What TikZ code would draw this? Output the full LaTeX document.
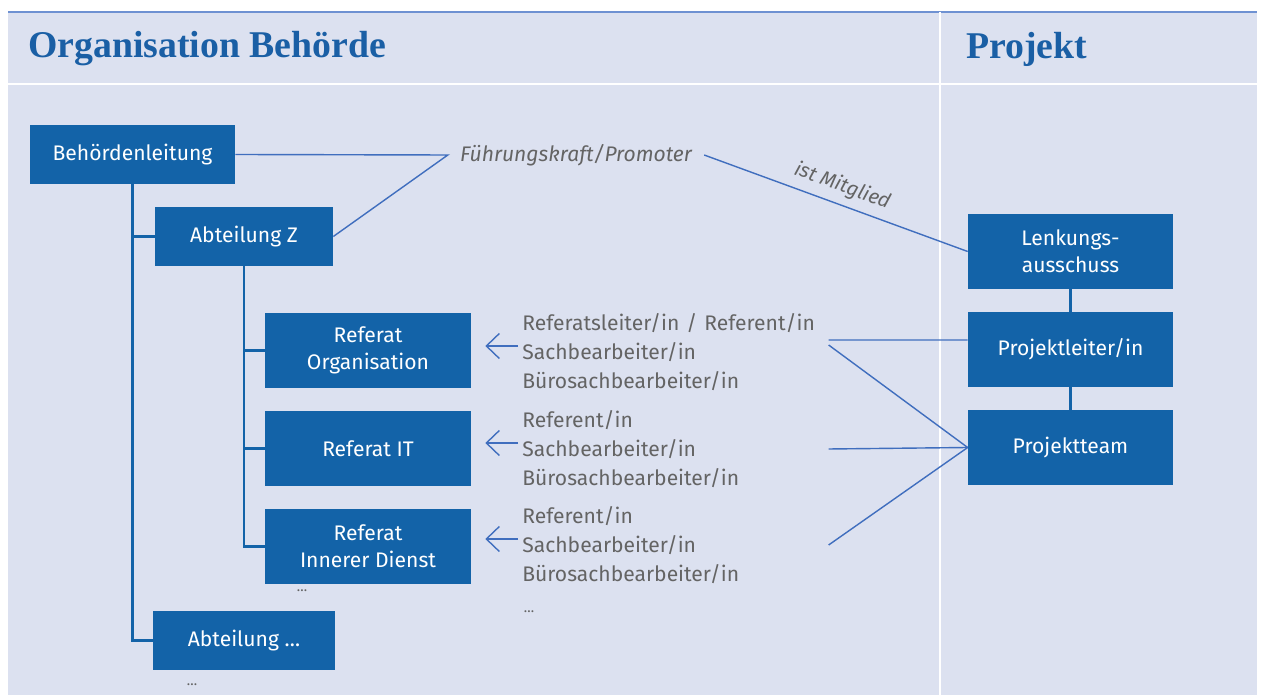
\documentclass[tikz,border=0pt]{standalone}
\usepackage{fontspec}
\setmainfont{Fira Sans}
\newfontfamily\titlefont{Liberation Serif}
\definecolor{bgblue}{RGB}{220,225,240}
\definecolor{boxblue}{RGB}{19,99,168}
\definecolor{titleblue}{RGB}{26,95,165}
\definecolor{lineblue}{RGB}{64,110,190}
\definecolor{topblue}{RGB}{110,145,210}
\definecolor{txtgray}{RGB}{100,100,100}
\usetikzlibrary{arrows.meta,positioning,calc}

\begin{document}
\begin{tikzpicture}[x=0.02cm,y=-0.02cm,
  orgbox/.style={fill=boxblue,text=white,inner sep=0pt,font=\fontsize{12}{15.5}\selectfont,align=center},
  wide/.style={orgbox,minimum width=4.1cm,minimum height=1.5cm},
  flat/.style={orgbox,minimum height=1.18cm},
  tree/.style={draw=boxblue,line width=1.7pt},
  link/.style={draw=lineblue,line width=0.8pt},
  roles/.style={text=txtgray,font=\fontsize{12}{16.5}\selectfont,align=left,anchor=west,text width=6.12cm,inner sep=0pt},
  dots/.style={text=txtgray,font=\fontsize{8}{10}\selectfont}]
  \useasboundingbox (0,0) rectangle (1262,695);
  % Background and header
  \fill[bgblue] (8,12) rectangle (1257,695);
  \draw[topblue,line width=1pt] (8,12) -- (1257,12);
  \draw[white,line width=1.2pt] (8,84) -- (1257,84);
  \draw[white,line width=1.2pt] (940,12) -- (940,695);
  \node[anchor=west,text=titleblue,font=\titlefont\fontsize{21.5}{24}\selectfont\bfseries,inner sep=0pt] (h1) at (28,49) {Organisation Behörde};
  \node[anchor=west,text=titleblue,font=\titlefont\fontsize{21.5}{24}\selectfont\bfseries,inner sep=0pt] (h2) at (966,49) {Projekt};
  % Organisation
  \node[flat,minimum width=4.1cm] (bl) at (132.5,154.5) {Behördenleitung};
  \node[flat,minimum width=3.56cm] (az) at (244,236.5) {Abteilung Z};
  \node[wide,minimum width=4.12cm] (ro) at (368,350.5) {Referat\\Organisation};
  \node[wide,minimum width=4.12cm] (rit) at (368,448.5) {Referat IT};
  \node[wide,minimum width=4.12cm] (rid) at (368,546.5) {Referat\\Innerer Dienst};
  \node[flat,minimum width=3.64cm] (ax) at (244,640.5) {Abteilung \ldots};
  \node[dots] (d1) at (302,591) {\ldots};
  \node[dots] (d2) at (192,685) {\ldots};
  \draw[tree] (bl.south) |- (ax.west);
  \draw[tree] (bl.south |- az.west) -- (az.west);
  \draw[tree] (az.south) |- (rid.west);
  \draw[tree] (az.south |- ro.west) -- (ro.west);
  \draw[tree] (az.south |- rit.west) -- (rit.west);
  % Roles
  \node[roles] (t1) at (522,352) {Referatsleiter/in / Referent/in\\Sachbearbeiter/in\\Bürosachbearbeiter/in};
  \node[roles] (t2) at (522,449) {Referent/in\\Sachbearbeiter/in\\Bürosachbearbeiter/in};
  \node[roles] (t3) at (522,545) {Referent/in\\Sachbearbeiter/in\\Bürosachbearbeiter/in};
  \node[dots] (d3) at (529,612) {\ldots};
  \foreach \t/\r in {t1/ro,t2/rit,t3/rid}
    \draw[link,-{Straight Barb[length=2.6mm,width=5mm]},shorten <=0.8mm,shorten >=2.8mm] ([yshift=1.2mm]\t.west) -- ([yshift=1.2mm]\t.west -| \r.east);
  % Projekt
  \node[wide] (la) at (1070.5,251.5) {Lenkungs-\\ausschuss};
  \node[wide] (pl) at (1070.5,349.5) {Projektleiter/in};
  \node[wide] (pt) at (1070.5,447.5) {Projektteam};
  \draw[tree] (la) -- (pl);
  \draw[tree] (pl) -- (pt);
  \draw[link] ([yshift=2.4mm]t1.east) -- ([yshift=1.9mm]pl.west);
  \draw[link] ([yshift=1.4mm]t1.east) -- (pt.west);
  \draw[link] (t2.east) -- (pt.west);
  \draw[link] (t3.east) -- (pt.west);
  % Führungskraft
  \node[text=txtgray,font=\fontsize{12}{15}\selectfont\itshape,inner xsep=2.4mm] (fk) at (576,155) {Führungskraft/Promoter};
  \draw[link] (bl.east) -- (fk.west) -- (az.east);
  \draw[link] (fk.east) -- node[midway,above=1pt,sloped,text=txtgray,font=\fontsize{11.5}{13}\selectfont\itshape] {ist Mitglied} (la.west);
\end{tikzpicture}
\end{document}
